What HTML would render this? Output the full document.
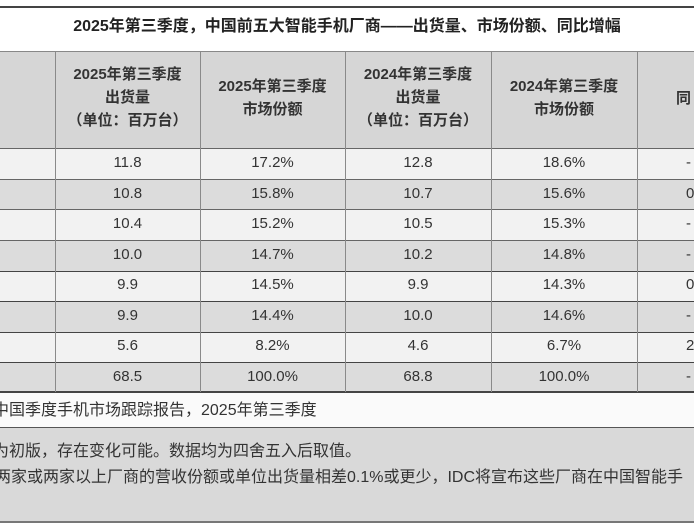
<!DOCTYPE html>
<html><head><meta charset="utf-8"><style>
body{margin:0;width:694px;height:532px;overflow:hidden;background:#fff;font-family:"Liberation Sans","Noto Sans CJK SC",sans-serif;color:#333;position:relative}
div{position:absolute;box-sizing:border-box}
.t{white-space:nowrap;text-align:center}
.n{white-space:nowrap;font-size:16px;line-height:22px}
.h{font-weight:bold;font-size:15px;line-height:23px;color:#333}
.d{font-size:15px;line-height:30.5px}
.v{background:#8a8a8a;width:1px;top:52px;height:340px}
</style></head><body>
<div style="left:0;top:6px;width:694px;height:2px;background:#444"></div>
<div class="t" style="left:0;top:14px;width:694px;font-weight:bold;font-size:16px;line-height:26px;color:#222">2025年第三季度，中国前五大智能手机厂商——出货量、市场份额、同比增幅</div>
<div style="left:0;top:51px;width:694px;height:97px;background:#d6d6d6;border-top:1px solid #888"></div>
<div class="t h" style="left:55px;top:63px;width:145px">2025年第三季度<br>出货量<br>（单位：百万台）</div>
<div class="t h" style="left:200px;top:75px;width:145px">2025年第三季度<br>市场份额</div>
<div class="t h" style="left:345px;top:63px;width:146px">2024年第三季度<br>出货量<br>（单位：百万台）</div>
<div class="t h" style="left:491px;top:75px;width:146px">2024年第三季度<br>市场份额</div>
<div class="h" style="left:676px;top:87px">同</div>
<div style="left:0;top:148px;width:694px;height:31px;background:#f2f2f2;border-top:1px solid #666"></div>
<div style="left:0;top:179px;width:694px;height:30px;background:#dcdcdc;border-top:1px solid #666"></div>
<div style="left:0;top:209px;width:694px;height:31px;background:#f2f2f2;border-top:1px solid #666"></div>
<div style="left:0;top:240px;width:694px;height:31px;background:#dcdcdc;border-top:1px solid #666"></div>
<div style="left:0;top:271px;width:694px;height:30px;background:#f2f2f2;border-top:1px solid #444"></div>
<div style="left:0;top:301px;width:694px;height:31px;background:#dcdcdc;border-top:1px solid #444"></div>
<div style="left:0;top:332px;width:694px;height:30px;background:#f2f2f2;border-top:1px solid #444"></div>
<div style="left:0;top:362px;width:694px;height:30px;background:#dcdcdc;border-top:1px solid #444"></div>
<div style="left:0;top:391px;width:694px;height:37px;background:#fafafa;border-top:2px solid #444"></div>
<div style="left:0;top:427px;width:694px;height:96px;background:#d9d9d9;border-top:1px solid #555;border-bottom:2px solid #777"></div>
<div class="v" style="left:55px"></div><div class="v" style="left:200px"></div><div class="v" style="left:345px"></div><div class="v" style="left:491px"></div><div class="v" style="left:637px"></div>
<div class="t d" style="left:55px;top:148px;width:145px">11.8<br>10.8<br>10.4<br>10.0<br>9.9<br>9.9<br>5.6<br>68.5</div>
<div class="t d" style="left:200px;top:148px;width:145px">17.2%<br>15.8%<br>15.2%<br>14.7%<br>14.5%<br>14.4%<br>8.2%<br>100.0%</div>
<div class="t d" style="left:345px;top:148px;width:146px">12.8<br>10.7<br>10.5<br>10.2<br>9.9<br>10.0<br>4.6<br>68.8</div>
<div class="t d" style="left:491px;top:148px;width:146px">18.6%<br>15.6%<br>15.3%<br>14.8%<br>14.3%<br>14.6%<br>6.7%<br>100.0%</div>
<div class="d" style="left:686px;top:148px">-<br>0<br>-<br>-<br>0<br>-<br>2<br>-</div>
<div class="n" style="left:-7px;top:400px">中国季度手机市场跟踪报告，2025年第三季度</div>
<div class="n" style="left:-7px;top:441px">为初版，存在变化可能。数据均为四舍五入后取值。</div>
<div class="n" style="left:-5px;top:467px">两家或两家以上厂商的营收份额或单位出货量相差0.1%或更少，IDC将宣布这些厂商在中国智能手</div>
</body></html>
